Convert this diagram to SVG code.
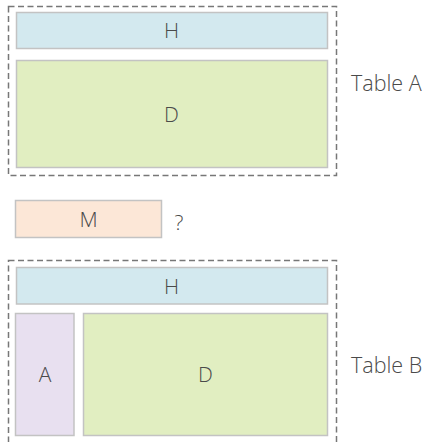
<svg xmlns="http://www.w3.org/2000/svg" width="433" height="442" viewBox="0 0 433 442">
<style>
.frame{fill:none;stroke:#777;stroke-width:1.5;stroke-dasharray:6,3.5}
.box{stroke:#c3c3c3;stroke-width:1.5}
.h{fill:#d3e9ef}
.d{fill:#e1eec1}
.m{fill:#fce7d7}
.a{fill:#e8e0f0}
.lbl{font-family:"Open Sans","Liberation Sans",sans-serif;font-weight:300;font-size:21px;fill:#4a4a4a;text-anchor:middle}
.ttl{font-family:"Open Sans","Liberation Sans",sans-serif;font-weight:300;font-size:21.5px;fill:#4a4a4a}
</style>
<g id="tableA">
<rect class="frame" x="8.5" y="6.5" width="328" height="169"/>
<text class="ttl" x="351" y="90.5">Table A</text>
</g>
<g id="tableA-H">
<rect class="box h" x="16.5" y="12.5" width="311" height="36"/>
<text class="lbl" x="171.5" y="38">H</text>
</g>
<g id="tableA-D">
<rect class="box d" x="16.5" y="60.5" width="311" height="107"/>
<text class="lbl" x="171.5" y="122">D</text>
</g>
<g id="M">
<rect class="box m" x="15.5" y="200.5" width="146" height="37"/>
<text class="lbl" x="88.5" y="227">M</text>
<text class="lbl" x="179" y="229.5">?</text>
</g>
<g id="tableB">
<rect class="frame" x="8.5" y="260.5" width="328" height="200"/>
<text class="ttl" x="351" y="373">Table B</text>
</g>
<g id="tableB-H">
<rect class="box h" x="16.5" y="267.5" width="311" height="36.5"/>
<text class="lbl" x="171.5" y="293.8">H</text>
</g>
<g id="tableB-A">
<rect class="box a" x="15.5" y="313.5" width="58.5" height="122"/>
<text class="lbl" x="45" y="382">A</text>
</g>
<g id="tableB-D">
<rect class="box d" x="83.5" y="313.5" width="244" height="122"/>
<text class="lbl" x="205.5" y="382">D</text>
</g>
<g id="connectors"></g>
</svg>
